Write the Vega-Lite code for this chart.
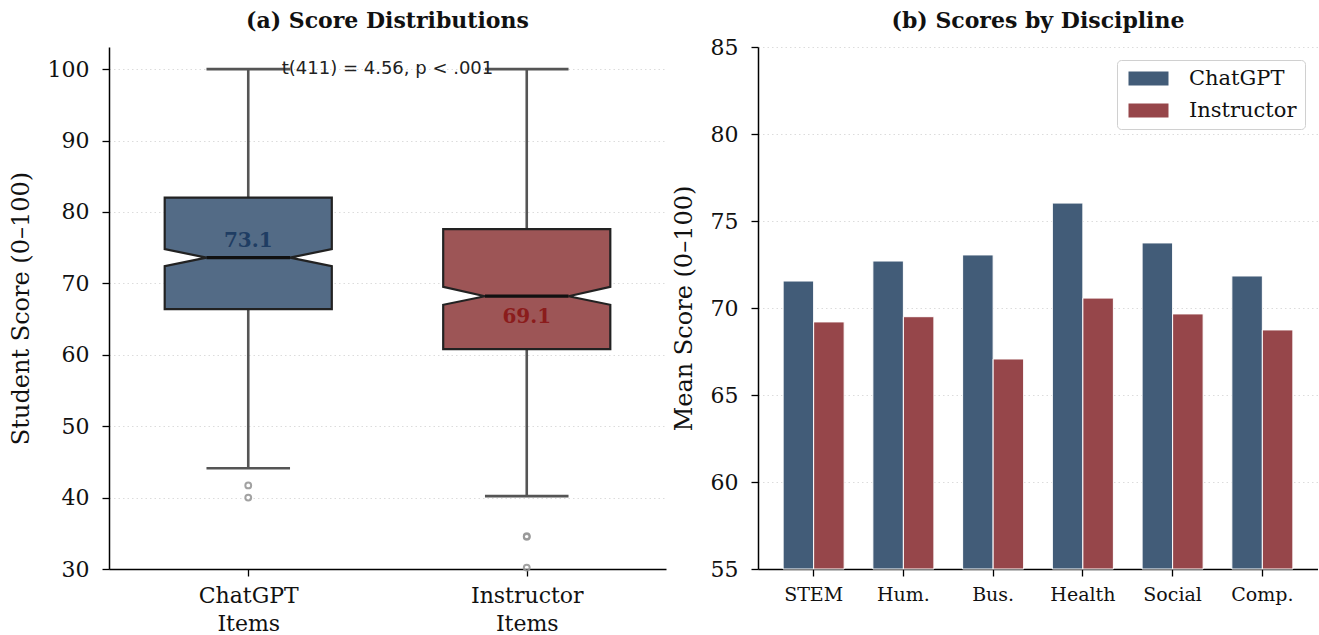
{
  "$schema": "https://vega.github.io/schema/vega-lite/v6.json",
  "background": "white",
  "padding": {"left": 9, "top": 10, "right": 0, "bottom": 0},
  "datasets": {
    "box": [
      {"group": "ChatGPT Items", "gi": 0, "q1": 66.4, "nlo": 72.4, "med": 73.6, "nhi": 74.8, "q3": 82.0, "wlo": 44.1, "whi": 100, "mean": 73.1},
      {"group": "Instructor Items", "gi": 1, "q1": 60.8, "nlo": 67.0, "med": 68.2, "nhi": 69.5, "q3": 77.6, "wlo": 40.2, "whi": 100, "mean": 69.1}
    ],
    "outliers": [
      {"group": "ChatGPT Items", "gi": 0, "score": 41.7},
      {"group": "ChatGPT Items", "gi": 0, "score": 40.0},
      {"group": "Instructor Items", "gi": 1, "score": 34.6},
      {"group": "Instructor Items", "gi": 1, "score": 34.5},
      {"group": "Instructor Items", "gi": 1, "score": 30.2}
    ],
    "bars": [
      {"discipline": "STEM", "source": "ChatGPT", "score": 71.55},
      {"discipline": "STEM", "source": "Instructor", "score": 69.2},
      {"discipline": "Hum.", "source": "ChatGPT", "score": 72.7},
      {"discipline": "Hum.", "source": "Instructor", "score": 69.5},
      {"discipline": "Bus.", "source": "ChatGPT", "score": 73.05},
      {"discipline": "Bus.", "source": "Instructor", "score": 67.07},
      {"discipline": "Health", "source": "ChatGPT", "score": 76.03},
      {"discipline": "Health", "source": "Instructor", "score": 70.57},
      {"discipline": "Social", "source": "ChatGPT", "score": 73.74},
      {"discipline": "Social", "source": "Instructor", "score": 69.66},
      {"discipline": "Comp.", "source": "ChatGPT", "score": 71.84},
      {"discipline": "Comp.", "source": "Instructor", "score": 68.74}
    ]
  },
  "config": {
    "view": {"stroke": null},
    "font": "DejaVu Serif",
    "axis": {
      "labelFont": "DejaVu Serif", "labelFontSize": 22, "labelColor": "#111",
      "titleFont": "DejaVu Serif", "titleFontSize": 24, "titleFontWeight": "normal", "titleColor": "#111",
      "domainColor": "#000", "domainWidth": 1.5, "tickColor": "#000", "tickWidth": 1.3, "tickSize": 7,
      "gridColor": "#d8d8d8", "gridDash": [1.5, 3], "gridWidth": 0.9
    },
    "axisX": {"labelPadding": 9},
    "axisY": {"labelPadding": 13, "titlePadding": 14},
    "title": {"font": "DejaVu Serif", "fontSize": 22, "fontWeight": "bold", "color": "#111", "offset": 14}
  },
  "hconcat": [
    {
      "width": 557,
      "height": 522,
      "title": {"text": "(a) Score Distributions", "offset": 14},
      "data": {"name": "box"},
      "layer": [
        {
          "mark": {"type": "rule", "color": "#555", "strokeWidth": 2.6},
          "encoding": {
            "x": {"field": "gi", "type": "quantitative", "scale": {"domain": [-0.5, 1.5], "nice": false},
              "axis": {"values": [0, 1], "grid": false, "title": null, "labelFontSize": 22, "labelLineHeight": 28,
                "labelExpr": "datum.value == 0 ? ['ChatGPT', 'Items'] : ['Instructor', 'Items']"}},
            "y": {"field": "q3", "type": "quantitative", "scale": {"domain": [30, 103.1], "nice": false, "zero": false},
              "axis": {"values": [30, 40, 50, 60, 70, 80, 90, 100], "grid": true, "title": "Student Score (0–100)"}},
            "y2": {"field": "whi"}
          }
        },
        {
          "mark": {"type": "rule", "color": "#555", "strokeWidth": 2.6},
          "encoding": {
            "x": {"field": "gi", "type": "quantitative"},
            "y": {"field": "wlo", "type": "quantitative"},
            "y2": {"field": "q1"}
          }
        },
        {
          "transform": [
            {"fold": ["whi", "wlo"], "as": ["cap", "capval"]},
            {"calculate": "datum.gi - 0.15", "as": "cl"},
            {"calculate": "datum.gi + 0.15", "as": "cr"}
          ],
          "mark": {"type": "rule", "color": "#555", "strokeWidth": 2.6},
          "encoding": {
            "x": {"field": "cl", "type": "quantitative"},
            "x2": {"field": "cr"},
            "y": {"field": "capval", "type": "quantitative"}
          }
        },
        {
          "transform": [
            {"fold": ["q1", "nlo", "med", "nhi", "q3"], "as": ["stat", "val"]},
            {"calculate": "datum.stat === 'med' ? 0.15 : 0.3", "as": "half"},
            {"calculate": "datum.gi - datum.half", "as": "xl"},
            {"calculate": "datum.gi + datum.half", "as": "xr"}
          ],
          "mark": {"type": "area", "orient": "horizontal", "stroke": "#222", "strokeWidth": 2.2, "opacity": 1, "fillOpacity": 1},
          "encoding": {
            "y": {"field": "val", "type": "quantitative"},
            "x": {"field": "xl", "type": "quantitative", "stack": null},
            "x2": {"field": "xr"},
            "detail": {"field": "group"},
            "color": {"field": "group", "type": "nominal", "legend": null,
              "scale": {"domain": ["ChatGPT Items", "Instructor Items"], "range": ["#536b86", "#9d5556"]}}
          }
        },
        {
          "transform": [
            {"calculate": "datum.gi - 0.15", "as": "ml"},
            {"calculate": "datum.gi + 0.15", "as": "mr"}
          ],
          "mark": {"type": "rule", "color": "#111", "strokeWidth": 3.2},
          "encoding": {
            "x": {"field": "ml", "type": "quantitative"},
            "x2": {"field": "mr"},
            "y": {"field": "med", "type": "quantitative"}
          }
        },
        {
          "data": {"name": "outliers"},
          "mark": {"type": "point", "shape": "circle", "filled": false, "color": "#999999", "strokeWidth": 2, "size": 34, "opacity": 0.9},
          "encoding": {
            "x": {"field": "gi", "type": "quantitative"},
            "y": {"field": "score", "type": "quantitative"}
          }
        },
        {
          "transform": [{"filter": "datum.gi == 0"}],
          "mark": {"type": "text", "font": "DejaVu Serif", "fontWeight": "bold", "fontSize": 20, "color": "#1f3d63", "dy": -20, "baseline": "middle"},
          "encoding": {
            "x": {"field": "gi", "type": "quantitative"},
            "y": {"field": "mean", "type": "quantitative"},
            "text": {"field": "mean", "type": "quantitative", "format": ".1f"}
          }
        },
        {
          "transform": [{"filter": "datum.gi == 1"}],
          "mark": {"type": "text", "font": "DejaVu Serif", "fontWeight": "bold", "fontSize": 20, "color": "#8b1c1c", "dy": 27, "baseline": "middle"},
          "encoding": {
            "x": {"field": "gi", "type": "quantitative"},
            "y": {"field": "mean", "type": "quantitative"},
            "text": {"field": "mean", "type": "quantitative", "format": ".1f"}
          }
        },
        {
          "data": {"values": [{"label": "t(411) = 4.56, p < .001"}]},
          "mark": {"type": "text", "font": "DejaVu Sans", "fontSize": 18, "color": "#222", "baseline": "middle"},
          "encoding": {
            "x": {"datum": 0.5},
            "y": {"datum": 100},
            "text": {"field": "label"}
          }
        }
      ]
    },
    {
      "width": 560,
      "height": 522,
      "title": {"text": "(b) Scores by Discipline", "offset": 3},
      "data": {"name": "bars"},
      "mark": {"type": "bar", "stroke": "white", "strokeWidth": 1},
      "encoding": {
        "x": {"field": "discipline", "type": "nominal", "sort": ["STEM", "Hum.", "Bus.", "Health", "Social", "Comp."],
          "scale": {"paddingInner": 0.32, "paddingOuter": 0.28},
          "axis": {"title": null, "labelAngle": 0, "labelFontSize": 19, "grid": false}},
        "xOffset": {"field": "source", "type": "nominal", "sort": ["ChatGPT", "Instructor"]},
        "y": {"field": "score", "type": "quantitative", "scale": {"domain": [55, 85], "nice": false, "zero": false},
          "axis": {"values": [55, 60, 65, 70, 75, 80, 85], "grid": true, "title": "Mean Score (0–100)"}},
        "y2": {"datum": 55},
        "color": {"field": "source", "type": "nominal", "sort": ["ChatGPT", "Instructor"],
          "scale": {"domain": ["ChatGPT", "Instructor"], "range": ["#425c78", "#96464a"]},
          "legend": {"title": null, "orient": "top-right", "offset": 13, "labelFont": "DejaVu Serif", "labelFontSize": 21, "labelColor": "#111",
            "symbolType": "M-1,-1H4.714V1H-1Z", "symbolSize": 196, "symbolStrokeWidth": 0, "labelOffset": 43,
            "rowPadding": 10, "padding": 8, "strokeColor": "#d0d0d0", "fillColor": "white", "cornerRadius": 4}}
      }
    }
  ],
  "spacing": 6,
  "resolve": {"scale": {"color": "independent"}, "legend": {"color": "independent"}}
}
